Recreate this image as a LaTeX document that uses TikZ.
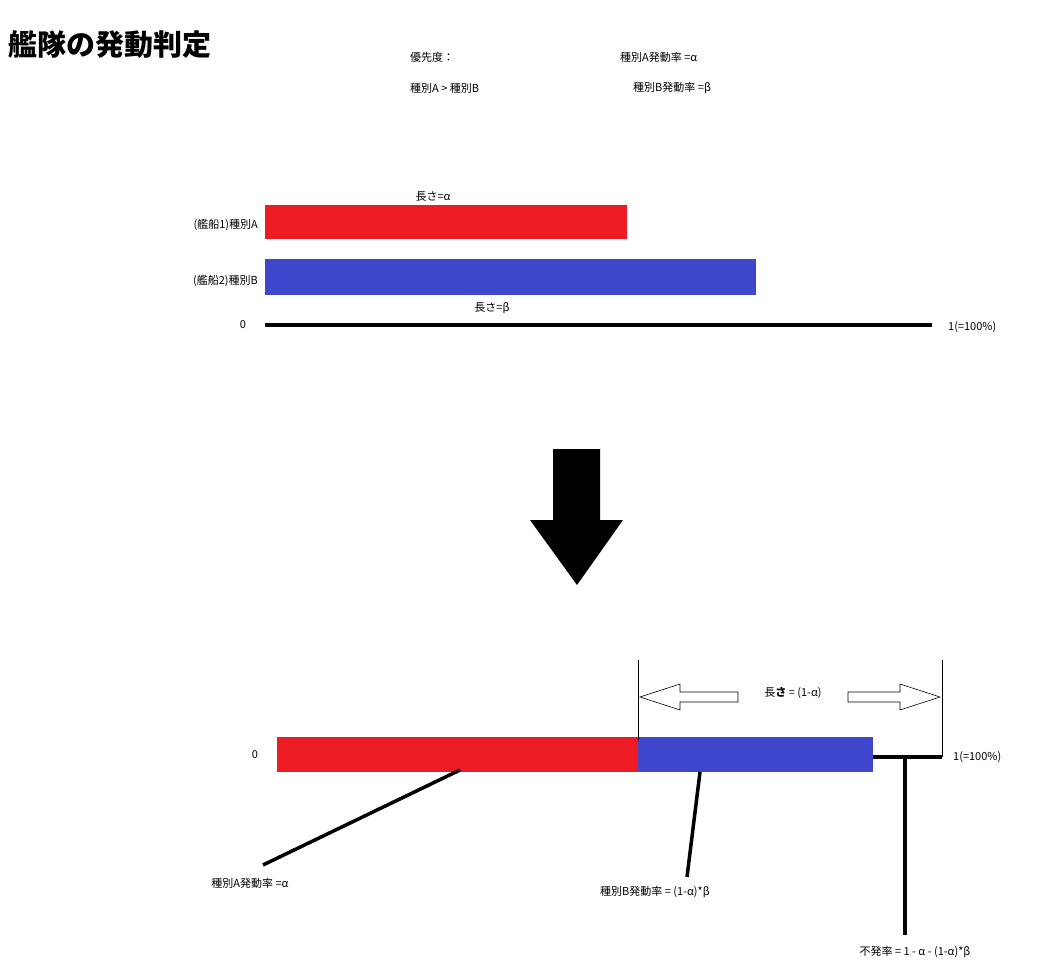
\documentclass[tikz,border=0pt]{standalone}
\usepackage{fontspec}
\setmainfont{Noto Sans CJK JP}
\definecolor{rd}{HTML}{ED1C24}
\definecolor{bl}{HTML}{3F48CC}
\begin{document}
\begin{tikzpicture}[x=1pt,y=-1pt,
  lbl/.style={font=\fontsize{11}{13}\selectfont,inner sep=0pt},
  thick5/.style={line width=4.5pt},
  lead/.style={line width=3.5pt}]
\useasboundingbox (0,0) rectangle (1063,979);
\node[anchor=west,inner sep=0pt,font=\fontsize{29}{32}\bfseries\selectfont] (title) at (8,45) {艦隊の発動判定};
\node[lbl,anchor=west] (p1) at (410,57) {優先度：};
\node[lbl,anchor=west] (p2) at (410,88) {種別A > 種別B};
\node[lbl,anchor=west] (r1) at (620,57) {種別A発動率 =α};
\node[lbl,anchor=west] (r2) at (633,88) {種別B発動率 =β};
% top bars
\node[lbl] (la) at (433,197) {長さ=α};
\fill[rd] (265,205) rectangle (627,239);
\node[lbl,anchor=east] (s1) at (258,225) {(艦船1)種別A};
\fill[bl] (265,259) rectangle (756,295);
\node[lbl,anchor=east] (s2) at (258,281) {(艦船2)種別B};
\node[lbl] (lb) at (492,308) {長さ=β};
\node[lbl] (z1) at (243,325) {0};
\coordinate (l1a) at (265,325); \coordinate (l1b) at (932,325);
\draw[thick5] (l1a) -- (l1b);
\node[lbl,anchor=west] (o1) at (948,327) {1(=100\%)};
% big arrow
\fill (553,449) -- (600,449) -- (600,520) -- (623,520) -- (577,585) -- (530,520) -- (553,520) -- cycle;
% bottom
\fill[rd] (277,737) rectangle (638,772);
\fill[bl] (638,737) rectangle (873,772);
\coordinate (e1) at (873,757); \coordinate (e2) at (942,757);
\draw[line width=4pt] (e1) -- (e2);
\node[lbl] (z2) at (255,755) {0};
\node[lbl,anchor=west] (o2) at (953,757) {1(=100\%)};
\draw[line width=0.6pt] (638,660) -- (638,740);
\draw[line width=0.6pt] (942,660) -- (942,757);
\draw[line width=0.6pt,fill=white] (640,697) -- (680,684) -- (680,692) -- (738,692) -- (738,702) -- (680,702) -- (680,710) -- cycle;
\draw[line width=0.6pt,fill=white] (940,697) -- (900,684) -- (900,692) -- (848,692) -- (848,702) -- (900,702) -- (900,710) -- cycle;
\node[lbl] (len) at (793,693) {長\textbf{さ} = (1-α)};
\coordinate (a1) at (460,770); \coordinate (a2) at (263,865);
\draw[lead] (a1) -- (a2);
\node[lbl,anchor=north] (ta) at (250,878) {種別A発動率 =α};
\coordinate (b1) at (700,772); \coordinate (b2) at (687,877);
\draw[lead] (b1) -- (b2);
\node[lbl] (tb) at (655,892) {種別B発動率 = (1-α)*β};
\coordinate (c1) at (905,757); \coordinate (c2) at (905,935);
\draw[lead] (c1) -- (c2);
\node[lbl] (tc) at (915,952) {不発率 = 1 - α - (1-α)*β};
\end{tikzpicture}
\end{document}
